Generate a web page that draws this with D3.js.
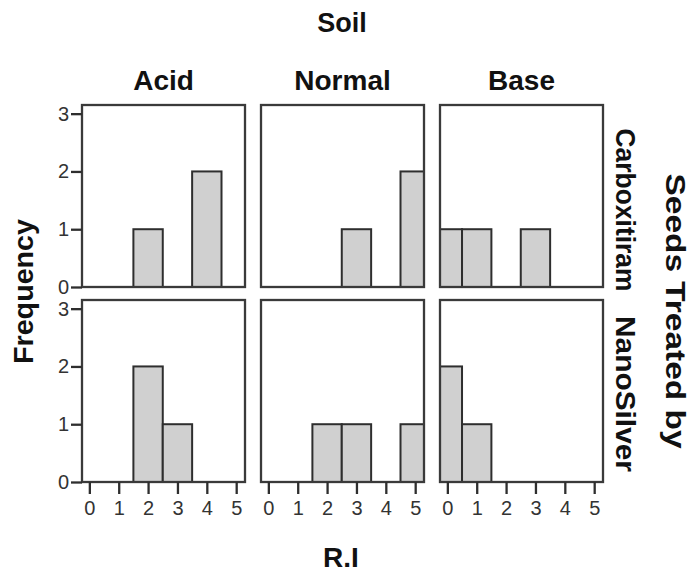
<!DOCTYPE html>
<html>
<head>
<meta charset="utf-8">
<script src="https://cdn.jsdelivr.net/npm/d3@7"></script>
<style>
  html, body { margin: 0; padding: 0; background: #fff; }
  svg { display: block; }
  text { font-family: "Liberation Sans", Arial, sans-serif; }
  .tick text { font-size: 20px !important; fill: #333; }
</style>
</head>
<body>
<svg id="chart" width="691" height="576"></svg>
<script>
// ---- data ----
const riValues = [0, 1, 2, 3, 4, 5];
const soils = ["Acid", "Normal", "Base"];
const treatments = ["Carboxitiram", "NanoSilver"];
const xTickLabels = ["0", "1", "2", "3", "4", "5"];
const yTickLabels = ["0", "1", "2", "3"];
// frequency counts per R.I value (0..5)
const carboxitiramAcid   = [0, 0, 1, 0, 2, 0];
const carboxitiramNormal = [0, 0, 0, 1, 0, 2];
const carboxitiramBase   = [1, 1, 0, 1, 0, 0];
const nanoSilverAcid     = [0, 0, 2, 1, 0, 0];
const nanoSilverNormal   = [0, 0, 1, 1, 0, 1];
const nanoSilverBase     = [2, 1, 0, 0, 0, 0];

const counts = [
  [carboxitiramAcid, carboxitiramNormal, carboxitiramBase],
  [nanoSilverAcid, nanoSilverNormal, nanoSilverBase]
];

// ---- layout ----
const svg = d3.select("#chart");
const colLeft = [82, 261, 440];
const rowTop = [105, 300];
const pw = 163, ph = 182;

const x = d3.scaleLinear().domain([-0.25, 5.3]).range([0, pw]);
const y = d3.scaleLinear().domain([0, 3.15]).range([ph, 0]);

const defs = svg.append("defs");
colLeft.forEach((cx, ci) => {
  rowTop.forEach((ry, ri) => {
    const id = `clip-${ri}-${ci}`;
    defs.append("clipPath").attr("id", id)
      .append("rect").attr("x", 0).attr("y", 0).attr("width", pw).attr("height", ph);

    const g = svg.append("g").attr("transform", `translate(${cx},${ry})`);
    const data = riValues.map((v, i) => ({ v, n: counts[ri][ci][i] })).filter(d => d.n > 0);

    g.append("g").attr("clip-path", `url(#${id})`)
      .selectAll("rect").data(data).join("rect")
      .attr("x", d => x(d.v - 0.5))
      .attr("width", d => x(d.v + 0.5) - x(d.v - 0.5))
      .attr("y", d => y(d.n))
      .attr("height", d => y(0) - y(d.n))
      .attr("fill", "#d0d0d0")
      .attr("stroke", "#2e2e2e")
      .attr("stroke-width", 2);

    g.append("rect")
      .attr("x", 0).attr("y", 0).attr("width", pw).attr("height", ph)
      .attr("fill", "none").attr("stroke", "#3a3a3a").attr("stroke-width", 2.3);

    if (ci === 0) {
      const ya = g.append("g").call(
        d3.axisLeft(y).tickValues(yTickLabels.map(Number)).tickFormat((d, i) => yTickLabels[i])
          .tickSize(11).tickPadding(2));
      ya.select(".domain").remove();
      ya.selectAll("line").attr("stroke", "#2e2e2e").attr("stroke-width", 2.3);
    }
    if (ri === 1) {
      const xa = g.append("g").attr("transform", `translate(0,${ph})`).call(
        d3.axisBottom(x).tickValues(riValues).tickFormat((d, i) => xTickLabels[i])
          .tickSize(12).tickPadding(7));
      xa.select(".domain").remove();
      xa.selectAll("line").attr("stroke", "#2e2e2e").attr("stroke-width", 2.3);
    }
  });
});

// ---- titles ----
const bold = sel => sel.attr("font-weight", "bold").attr("fill", "#111").attr("font-size", 28);

bold(svg.append("text").attr("x", 342).attr("y", 32).attr("text-anchor", "middle").text("Soil"))
  .attr("font-size", 27);

soils.forEach((s, ci) => {
  bold(svg.append("text")
    .attr("x", colLeft[ci] + pw / 2).attr("y", 90)
    .attr("text-anchor", "middle").text(s));
});

bold(svg.append("text").attr("x", 341).attr("y", 567).attr("text-anchor", "middle").text("R.I"));

bold(svg.append("text")
  .attr("transform", "translate(23,291.5) rotate(-90)")
  .attr("text-anchor", "middle").attr("dominant-baseline", "central")
  .attr("textLength", 145).attr("lengthAdjust", "spacingAndGlyphs")
  .text("Frequency"));

const rowLabelY = [210, 394];
const rowLabelLen = [163, 156];
treatments.forEach((t, ri) => {
  bold(svg.append("text")
    .attr("transform", `translate(625,${rowLabelY[ri]}) rotate(90)`)
    .attr("text-anchor", "middle").attr("dominant-baseline", "central")
    .attr("textLength", rowLabelLen[ri]).attr("lengthAdjust", "spacingAndGlyphs")
    .text(t));
});

bold(svg.append("text")
  .attr("transform", "translate(675,311) rotate(90)")
  .attr("text-anchor", "middle").attr("dominant-baseline", "central")
  .attr("textLength", 275).attr("lengthAdjust", "spacingAndGlyphs")
  .text("Seeds Treated by"));
</script>
</body>
</html>
